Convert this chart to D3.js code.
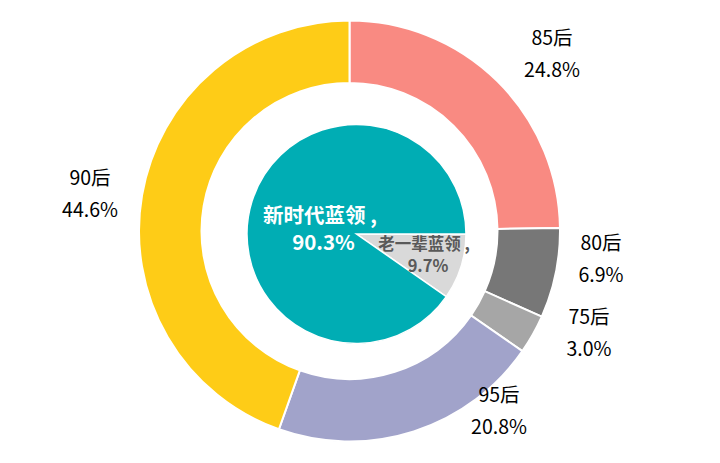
<!DOCTYPE html>
<html>
<head>
<meta charset="utf-8">
<script src="https://cdn.jsdelivr.net/npm/d3@7/dist/d3.min.js"></script>
<style>
  html, body { margin: 0; padding: 0; background: #fff; }
  svg { display: block; }
  text { font-family: "Microsoft YaHei", "Noto Sans CJK SC", "Noto Sans", sans-serif; }
</style>
</head>
<body>
<svg id="chart" width="720" height="463"></svg>
<script>
// ---- data ----
const outerCategories = ["85后", "80后", "75后", "95后", "90后"];
const outerValues = [24.8, 6.9, 3.0, 20.8, 44.6];
const outerLabels = ["24.8%", "6.9%", "3.0%", "20.8%", "44.6%"];

const innerCategories = ["老一辈蓝领", "新时代蓝领"];
const innerValues = [9.7, 90.3];
const innerLabels = ["9.7%", "90.3%"];

// ---- styles / layout ----
const outerColors = ["#F98A82", "#777777", "#A6A6A6", "#A1A3CA", "#FECC17"];
const innerColors = ["#D9D9D9", "#00ADB4"];
const outerLabelPos = [[552, 45], [601, 250], [589, 324], [499, 402], [90, 185]];
const lineGap = 32;

const svg = d3.select("#chart");

// Outer donut
const oc = { x: 349.5, y: 231 };
const outerPie = d3.pie().sort(null).startAngle(0).endAngle(2 * Math.PI);
const outerArc = d3.arc().innerRadius(148).outerRadius(210.5);
const gOuter = svg.append("g").attr("transform", `translate(${oc.x},${oc.y})`);
gOuter.selectAll("path")
  .data(outerPie(outerValues))
  .join("path")
  .attr("d", outerArc)
  .attr("fill", (d, i) => outerColors[i])
  .attr("stroke", "#fff")
  .attr("stroke-width", 2);

// Outer labels
outerCategories.forEach((c, i) => {
  const [x, y] = outerLabelPos[i];
  const t = svg.append("text")
    .attr("text-anchor", "middle")
    .attr("font-size", 19.5)
    .attr("fill", "#000");
  t.append("tspan").attr("x", x).attr("y", y).text(c);
  t.append("tspan").attr("x", x).attr("y", y + lineGap).text(outerLabels[i]);
});

// Inner pie
const ic = { x: 356.5, y: 234 };
const innerPie = d3.pie().sort(null).startAngle(Math.PI / 2).endAngle(Math.PI / 2 + 2 * Math.PI);
const innerArc = d3.arc().innerRadius(0).outerRadius(109.5);
const gInner = svg.append("g").attr("transform", `translate(${ic.x},${ic.y})`);
gInner.selectAll("path")
  .data(innerPie(innerValues))
  .join("path")
  .attr("d", innerArc)
  .attr("fill", (d, i) => innerColors[i])
  .attr("stroke", "#fff")
  .attr("stroke-width", 1.5);

// Inner labels
const bigLabel = svg.append("text")
  .attr("text-anchor", "middle")
  .attr("font-size", 20.5)
  .attr("font-weight", "bold")
  .attr("fill", "#fff");
bigLabel.append("tspan").attr("x", 320).attr("y", 223).text(innerCategories[1] + " ,");
bigLabel.append("tspan").attr("x", 323.5).attr("y", 250).text(innerLabels[1]);

const smallLabel = svg.append("text")
  .attr("text-anchor", "middle")
  .attr("font-size", 16.5)
  .attr("font-weight", "bold")
  .attr("fill", "#595959");
smallLabel.append("tspan").attr("x", 424).attr("y", 250).text(innerCategories[0] + " ,");
smallLabel.append("tspan").attr("x", 428).attr("y", 272).text(innerLabels[0]);
</script>
</body>
</html>
